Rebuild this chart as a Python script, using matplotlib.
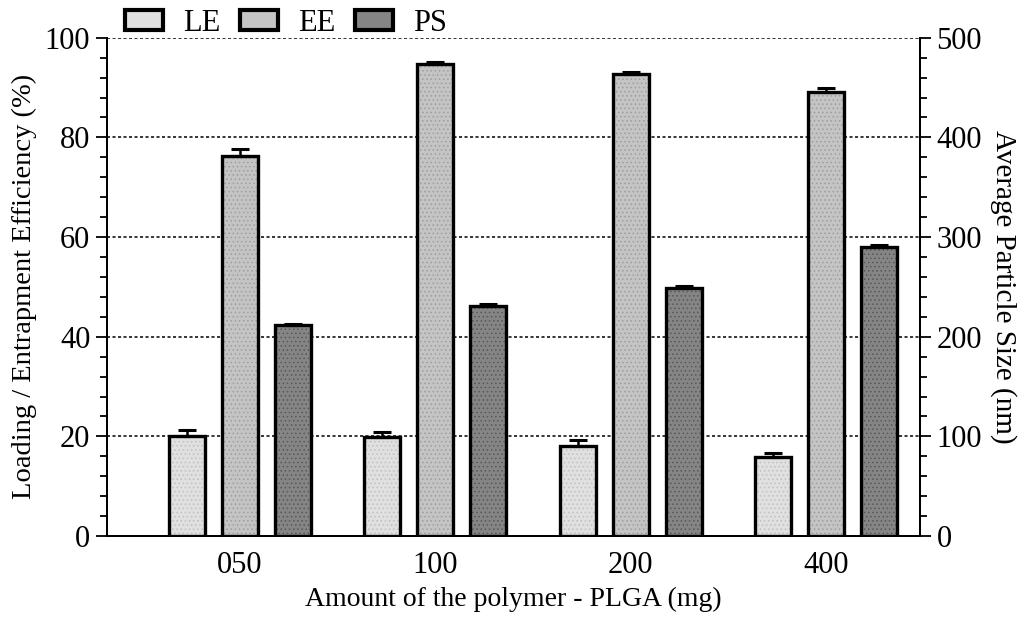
import matplotlib
matplotlib.use("Agg")
import matplotlib.pyplot as plt
import numpy as np
from matplotlib.patches import Patch
from matplotlib.ticker import MultipleLocator

# Data
categories = ["050", "100", "200", "400"]
le_values = [20.0, 19.8, 18.0, 15.8]
le_err = [1.2, 1.0, 1.2, 0.9]
ee_values = [76.2, 94.7, 92.7, 89.2]
ee_err = [1.4, 0.5, 0.5, 0.7]
ps_values = [212.0, 231.0, 249.0, 290.0]
ps_err = [1.0, 2.0, 2.0, 2.3]

plt.rcParams["font.family"] = ["Liberation Serif", "DejaVu Serif"]
plt.rcParams["hatch.linewidth"] = 0.6

fig = plt.figure(figsize=(10.29, 6.19), dpi=100)
ax = fig.add_axes([0.104, 0.134, 0.790, 0.805])
ax2 = ax.twinx()

x = np.arange(len(categories))
width = 0.184
offset = 0.271

styles = {
    "LE": dict(face="#e0e0e0", dots="#c0c0c0"),
    "EE": dict(face="#c4c4c4", dots="#9e9e9e"),
    "PS": dict(face="#858585", dots="#585858"),
}


def draw_bars(axis, pos, vals, errs, key):
    st = styles[key]
    axis.bar(pos, vals, width, color=st["face"], edgecolor=st["dots"],
             hatch="....", linewidth=0, zorder=3)
    axis.bar(pos, vals, width, facecolor="none", edgecolor="black",
             linewidth=2.4, zorder=4)
    axis.errorbar(pos, vals, yerr=[np.zeros(len(vals)), errs], fmt="none",
                  ecolor="black", elinewidth=1.8, capsize=6.5, capthick=2.2,
                  zorder=5)


draw_bars(ax, x - offset, le_values, le_err, "LE")
draw_bars(ax, x, ee_values, ee_err, "EE")
draw_bars(ax2, x + offset, ps_values, ps_err, "PS")

ax.set_xlim(-0.68, 3.48)
ax.set_ylim(0, 100)
ax2.set_ylim(0, 500)

ax.set_xticks(x)
ax.set_xticklabels(categories)
ax.tick_params(axis="x", length=0, labelsize=22, pad=11)

ax.yaxis.set_major_locator(MultipleLocator(20))
ax.yaxis.set_minor_locator(MultipleLocator(4))
ax.tick_params(axis="y", which="major", length=8, width=1.3, labelsize=22,
               pad=4)
ax.tick_params(axis="y", which="minor", length=5, width=1.3)

ax2.yaxis.set_major_locator(MultipleLocator(100))
ax2.yaxis.set_minor_locator(MultipleLocator(20))
ax2.tick_params(axis="y", which="major", length=8, width=1.3, labelsize=22,
                pad=4)
ax2.tick_params(axis="y", which="minor", length=5, width=1.3)

ax.yaxis.grid(True, which="major", linestyle=(0, (2.0, 1.6)),
              color="black", linewidth=1.1, zorder=0)
ax.set_axisbelow(True)

for a in (ax, ax2):
    a.spines["top"].set_visible(False)
    for s in ("left", "right", "bottom"):
        a.spines[s].set_linewidth(1.4)

ax.set_xlabel("Amount of the polymer - PLGA (mg)", fontsize=20, labelpad=5)
ax.set_ylabel("Loading / Entrapment Efficiency (%)", fontsize=20.5,
              labelpad=6)
ax2.set_ylabel("Average Particle Size (nm)", fontsize=21, rotation=270,
               va="center", ha="center")
ax2.yaxis.set_label_coords(1.103, 0.5)

handles = [
    Patch(facecolor=styles[k]["face"], edgecolor="black", linewidth=3.0,
          label=k)
    for k in ("LE", "EE", "PS")
]
leg = fig.legend(handles=handles, loc="center left",
                 bbox_to_anchor=(0.110, 0.962), ncol=3, frameon=False,
                 fontsize=22, handlelength=1.24, handleheight=0.62,
                 handletextpad=0.65, columnspacing=0.65, borderaxespad=0)

fig.savefig("out.png", dpi=100)
